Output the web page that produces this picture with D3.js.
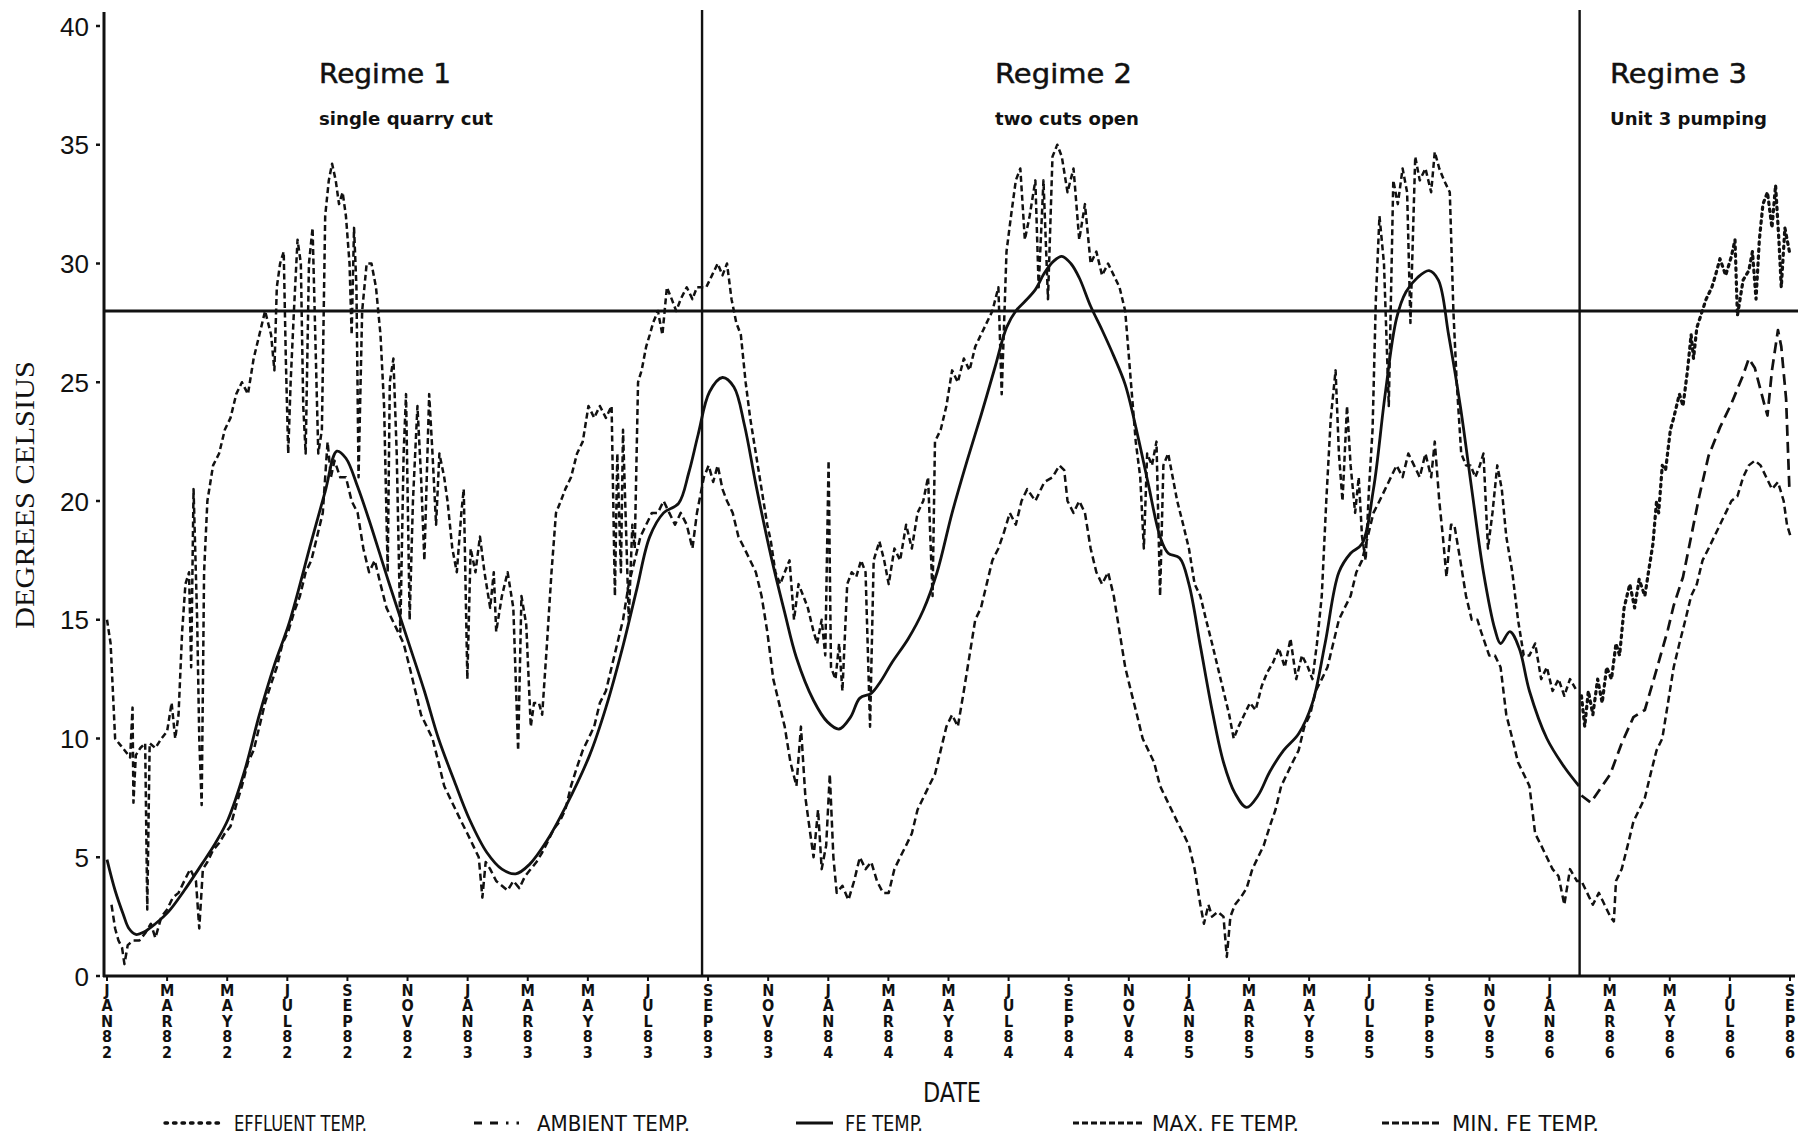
<!DOCTYPE html>
<html><head><meta charset="utf-8">
<script src="https://cdn.jsdelivr.net/npm/d3@7"></script>
<style>html,body{margin:0;padding:0;background:#fff}svg{display:block}</style>
</head><body>
<svg id="chart" width="1810" height="1139"></svg>
<script>
// ---------- DATA (x = months since Jan 1982, y = degrees Celsius) ----------
const tickLabels = ["JAN82","MAR82","MAY82","JUL82","SEP82","NOV82","JAN83","MAR83","MAY83","JUL83","SEP83","NOV83",
  "JAN84","MAR84","MAY84","JUL84","SEP84","NOV84","JAN85","MAR85","MAY85","JUL85","SEP85","NOV85","JAN86","MAR86","MAY86","JUL86","SEP86"];
const yTicks = [0,5,10,15,20,25,30,35,40];
const regimeBoundaries = [19.8, 49.0];
const regimeTitles = ["Regime 1","Regime 2","Regime 3"];
const regimeSubtitles = ["single quarry cut","two cuts open","Unit 3 pumping"];
const thresholdTemp = 28;
const legendLabels = ["EFFLUENT TEMP.","AMBIENT TEMP.","FE TEMP.","MAX. FE TEMP.","MIN. FE TEMP."];

const feTemp = [[0,4.9],[0.27,3.6],[0.54,2.6],[0.73,2.0],[0.96,1.75],[1.23,1.85],[1.61,2.2],[2.04,2.7],[2.57,3.6],[3.15,4.7],
 [3.61,5.6],[4.03,6.6],[4.57,8.6],[5.07,11.0],[5.57,13.1],[6.07,14.9],[6.8,18.3],[7.26,20.4],[7.65,22.1],[7.95,21.8],
 [8.34,20.6],[8.72,19.2],[9.37,16.6],[10.07,13.9],[10.56,12.0],[11.03,10.0],[11.56,8.2],[12.06,6.6],[12.64,5.2],[13.14,4.5],
 [13.6,4.3],[14.06,4.7],[14.64,5.7],[15.25,7.1],[16.06,9.3],[16.6,11.3],[17.17,13.9],[17.63,16.3],[18.06,18.5],[18.52,19.5],
 [19.02,19.9],[19.36,21.2],[19.67,22.8],[20.05,24.6],[20.48,25.2],[20.86,24.8],[21.21,23.2],[21.59,20.7],[22.09,17.7],[22.55,15.3],
 [22.94,13.4],[23.51,11.6],[23.97,10.7],[24.36,10.4],[24.74,10.9],[25.05,11.7],[25.43,11.9],[25.74,12.4],[26.12,13.2],[26.66,14.2],
 [27.16,15.4],[27.62,17.0],[28.12,19.5],[28.62,21.7],[29.08,23.6],[29.54,25.6],[29.93,27.3],[30.24,28.0],[30.54,28.4],[30.89,28.9],
 [31.19,29.6],[31.5,30.1],[31.77,30.3],[32.07,30.0],[32.35,29.4],[32.73,28.2],[33.11,27.2],[33.5,26.1],[33.88,24.9],[34.27,22.9],
 [34.65,20.7],[35.04,18.5],[35.31,17.8],[35.69,17.6],[36.0,16.5],[36.38,13.9],[36.77,11.2],[37.15,9.0],[37.53,7.7],[37.92,7.1],
 [38.3,7.6],[38.69,8.6],[39.15,9.5],[39.65,10.2],[40.11,11.5],[40.53,14.0],[40.99,17.0],[41.38,17.8],[41.76,18.2],[42.14,20.5],
 [42.53,24.5],[42.91,27.7],[43.22,28.8],[43.6,29.4],[43.99,29.7],[44.3,29.3],[44.64,27.0],[45.03,24.0],[45.41,20.5],[45.8,17.0],
 [46.18,14.6],[46.37,14.0],[46.68,14.5],[46.99,13.8],[47.33,12.0],[47.91,10.0],[48.49,8.8],[48.98,8.0]];

const maxFeTemp = [[0,15.0],[0.12,14.0],[0.27,10.0],[0.46,9.7],[0.65,9.4],[0.77,9.2],[0.85,11.3],[0.88,7.3],[0.96,9.3],[1.11,9.6],
 [1.27,9.8],[1.34,2.8],[1.42,9.8],[1.61,9.6],[1.81,10.0],[2.0,10.3],[2.15,11.5],[2.27,10.0],[2.38,11.0],[2.5,14.5],
 [2.61,16.5],[2.73,17.0],[2.8,13.0],[2.88,20.5],[3.0,15.0],[3.07,10.0],[3.15,7.2],[3.23,17.0],[3.34,20.0],[3.53,21.5],
 [3.73,22.0],[3.92,23.0],[4.11,23.5],[4.3,24.5],[4.49,25.0],[4.69,24.5],[4.88,26.0],[5.07,27.0],[5.26,28.0],[5.46,27.0],
 [5.57,25.5],[5.65,29.0],[5.76,30.0],[5.88,30.5],[5.95,26.0],[6.03,22.0],[6.11,25.0],[6.22,28.0],[6.34,31.0],[6.45,30.0],
 [6.53,24.0],[6.61,22.0],[6.72,30.0],[6.84,31.5],[6.95,26.0],[7.03,22.0],[7.15,23.0],[7.26,32.0],[7.38,33.5],[7.49,34.2],
 [7.61,33.5],[7.72,32.5],[7.84,33.0],[7.95,32.0],[8.07,30.0],[8.14,27.0],[8.22,31.5],[8.3,29.0],[8.37,21.0],[8.49,28.0],
 [8.64,30.0],[8.8,30.0],[8.95,29.0],[9.1,27.0],[9.22,24.0],[9.34,17.0],[9.41,25.0],[9.53,26.0],[9.64,22.0],[9.76,14.5],
 [9.87,22.0],[9.95,24.5],[10.07,15.0],[10.18,20.0],[10.33,24.0],[10.45,21.0],[10.56,17.5],[10.72,24.5],[10.83,22.0],[10.95,19.0],
 [11.06,22.0],[11.22,21.0],[11.33,20.0],[11.49,18.0],[11.64,17.0],[11.79,19.5],[11.87,20.5],[11.99,12.5],[12.1,18.0],[12.26,17.0],
 [12.41,18.5],[12.56,17.0],[12.75,15.5],[12.87,17.0],[12.95,14.5],[13.14,16.0],[13.33,17.0],[13.52,15.5],[13.68,9.5],[13.79,16.0],
 [13.95,14.8],[14.1,10.5],[14.21,11.5],[14.37,11.5],[14.48,11.0],[14.64,14.0],[14.79,17.0],[14.94,19.5],[15.1,20.0],[15.25,20.5],
 [15.44,21.0],[15.64,22.0],[15.83,22.5],[16.02,24.0],[16.21,23.5],[16.4,24.0],[16.6,23.5],[16.79,24.0],[16.9,16.0],[16.98,22.0],
 [17.1,17.0],[17.17,23.0],[17.29,18.0],[17.36,15.0],[17.48,19.0],[17.56,18.0],[17.67,25.0],[17.79,25.5],[17.94,26.5],[18.06,27.0],
 [18.17,27.5],[18.33,28.0],[18.48,27.0],[18.63,29.0],[18.79,28.5],[18.94,28.0],[19.09,28.5],[19.29,29.0],[19.48,28.5],[19.63,29.0],
 [19.94,29.0],[20.13,29.5],[20.32,30.0],[20.48,29.5],[20.63,30.0],[20.78,28.5],[20.94,27.5],[21.09,27.0],[21.25,25.0],[21.4,23.5],
 [21.59,22.0],[21.78,20.5],[21.97,19.0],[22.09,18.3],[22.24,17.0],[22.4,16.5],[22.55,17.0],[22.71,17.5],[22.86,15.0],[23.01,16.5],
 [23.17,16.0],[23.32,15.5],[23.51,14.5],[23.63,14.0],[23.78,15.0],[23.9,13.5],[24.01,21.7],[24.09,13.0],[24.24,12.5],[24.36,14.0],
 [24.47,12.0],[24.63,16.5],[24.78,17.0],[24.93,16.8],[25.09,17.5],[25.24,17.0],[25.39,10.5],[25.51,17.5],[25.7,18.3],[25.86,17.5],
 [26.01,16.5],[26.2,18.0],[26.39,17.5],[26.59,19.0],[26.78,18.0],[26.97,19.5],[27.16,20.0],[27.32,21.0],[27.47,16.0],[27.55,22.5],
 [27.74,23.0],[27.93,24.0],[28.12,25.5],[28.31,25.0],[28.51,26.0],[28.7,25.5],[28.89,26.5],[29.08,27.0],[29.27,27.5],[29.46,28.0],
 [29.66,29.0],[29.77,24.5],[29.93,30.5],[30.08,32.0],[30.24,33.5],[30.39,34.0],[30.54,31.0],[30.7,32.0],[30.89,33.5],[31.0,29.0],
 [31.16,33.5],[31.31,28.5],[31.46,34.5],[31.62,35.0],[31.77,34.5],[31.96,33.0],[32.16,34.0],[32.35,31.0],[32.54,32.5],[32.73,30.0],
 [32.92,30.5],[33.11,29.5],[33.31,30.0],[33.5,29.5],[33.69,29.0],[33.88,28.0],[34.07,25.0],[34.23,22.5],[34.38,21.0],[34.5,18.0],
 [34.61,22.0],[34.77,21.5],[34.92,22.5],[35.04,16.0],[35.15,21.5],[35.31,22.0],[35.46,21.0],[35.61,20.0],[35.81,19.0],[36.0,18.0],
 [36.19,16.5],[36.38,16.0],[36.57,15.0],[36.77,14.0],[36.96,13.0],[37.15,12.0],[37.34,11.0],[37.49,10.0],[37.65,10.5],[37.84,11.0],
 [38.03,11.5],[38.22,11.2],[38.42,12.2],[38.61,12.8],[38.8,13.2],[38.99,13.8],[39.19,13.0],[39.38,14.2],[39.57,12.5],[39.76,13.5],
 [39.96,13.0],[40.11,12.5],[40.26,14.0],[40.42,16.0],[40.57,20.0],[40.72,23.5],[40.88,25.5],[40.99,22.0],[41.11,20.0],[41.26,24.0],
 [41.38,21.5],[41.53,19.5],[41.65,21.0],[41.76,18.5],[41.88,17.5],[41.99,20.5],[42.11,23.0],[42.22,28.5],[42.34,32.0],[42.49,30.0],
 [42.65,24.0],[42.8,33.5],[42.95,32.5],[43.11,34.0],[43.26,33.0],[43.37,27.5],[43.53,34.5],[43.68,33.5],[43.87,34.0],[44.06,33.0],
 [44.18,34.7],[44.33,34.0],[44.49,33.5],[44.68,33.0],[44.8,28.0],[44.91,25.0],[45.06,22.0],[45.22,21.5],[45.37,21.5],[45.53,21.0],
 [45.68,21.5],[45.8,22.0],[45.95,18.0],[46.1,19.5],[46.26,21.5],[46.41,20.5],[46.56,18.5],[46.76,17.0],[46.95,15.0],[47.14,13.5],
 [47.33,13.5],[47.52,14.0],[47.72,12.5],[47.91,13.0],[48.1,12.0],[48.3,12.5],[48.49,11.8],[48.68,12.5],[48.91,12.0]];

const minFeTemp = [[0.15,3.0],[0.27,2.0],[0.38,1.5],[0.5,1.2],[0.58,0.5],[0.69,1.3],[0.88,1.5],[1.08,1.5],[1.27,1.8],[1.46,2.2],
 [1.61,1.6],[1.81,2.5],[2.0,2.8],[2.19,3.3],[2.38,3.5],[2.57,4.0],[2.77,4.5],[2.96,4.0],[3.07,2.0],[3.19,4.5],
 [3.34,4.8],[3.53,5.3],[3.73,5.6],[3.92,6.0],[4.11,6.3],[4.3,7.2],[4.49,8.0],[4.69,9.0],[4.88,9.5],[5.07,10.5],
 [5.26,11.5],[5.46,12.3],[5.65,13.0],[5.84,14.0],[6.03,14.5],[6.22,15.3],[6.42,16.0],[6.61,17.0],[6.8,17.5],[6.99,18.5],
 [7.18,19.5],[7.34,22.5],[7.45,21.0],[7.57,21.7],[7.76,21.0],[7.95,21.0],[8.14,20.0],[8.34,19.5],[8.53,18.0],[8.72,17.0],
 [8.91,17.5],[9.1,16.5],[9.3,15.5],[9.49,15.0],[9.68,14.5],[9.87,14.0],[10.07,13.0],[10.26,12.0],[10.45,11.0],[10.64,10.5],
 [10.83,10.0],[11.03,9.0],[11.22,8.0],[11.41,7.5],[11.6,7.0],[11.79,6.5],[11.99,6.0],[12.18,5.5],[12.37,5.0],[12.49,3.3],
 [12.6,4.8],[12.75,4.5],[12.95,4.0],[13.14,3.8],[13.33,3.6],[13.52,4.0],[13.72,3.7],[13.91,4.2],[14.1,4.5],[14.29,4.8],
 [14.48,5.2],[14.68,5.7],[14.87,6.2],[15.06,6.5],[15.25,7.0],[15.44,8.0],[15.64,8.8],[15.83,9.5],[16.02,10.0],[16.21,10.5],
 [16.4,11.5],[16.6,12.0],[16.79,13.0],[16.98,14.0],[17.17,15.0],[17.36,16.5],[17.56,17.5],[17.75,18.5],[17.94,19.0],[18.13,19.5],
 [18.33,19.5],[18.52,20.0],[18.71,19.5],[18.9,19.0],[19.09,19.5],[19.29,19.0],[19.48,18.0],[19.63,19.5],
 [19.86,21.0],[20.02,21.5],[20.17,20.8],[20.32,21.5],[20.48,20.5],[20.63,20.0],[20.82,19.5],[21.01,18.5],[21.21,18.0],[21.4,17.5],
 [21.59,17.0],[21.78,16.0],[21.97,14.5],[22.17,12.5],[22.36,11.5],[22.55,10.5],[22.74,9.0],[22.94,8.0],[23.09,10.5],[23.24,7.5],
 [23.4,6.0],[23.51,5.0],[23.66,7.0],[23.78,4.5],[23.93,5.5],[24.05,8.5],[24.17,5.0],[24.28,3.5],[24.47,3.8],[24.67,3.2],
 [24.86,4.0],[25.05,5.0],[25.24,4.5],[25.43,4.8],[25.62,4.0],[25.82,3.5],[26.01,3.5],[26.2,4.5],[26.39,5.0],[26.59,5.5],
 [26.78,6.0],[26.97,7.0],[27.16,7.5],[27.35,8.0],[27.55,8.5],[27.74,9.5],[27.93,10.5],[28.12,11.0],[28.31,10.5],[28.51,12.0],
 [28.7,13.5],[28.89,15.0],[29.08,15.5],[29.27,16.5],[29.46,17.5],[29.66,18.0],[29.85,18.7],[30.04,19.5],[30.24,19.0],[30.43,20.0],
 [30.62,20.5],[30.89,20.0],[31.19,20.8],[31.46,21.0],[31.69,21.5],[31.85,21.3],[31.96,20.0],[32.16,19.5],[32.35,20.0],[32.54,19.5],
 [32.73,18.0],[32.92,17.0],[33.11,16.5],[33.31,17.0],[33.5,16.0],[33.69,14.5],[33.88,13.0],[34.07,12.0],[34.27,11.0],[34.46,10.0],
 [34.65,9.5],[34.84,9.0],[35.04,8.0],[35.23,7.5],[35.42,7.0],[35.61,6.5],[35.81,6.0],[36.0,5.5],[36.19,4.5],[36.38,3.0],
 [36.5,2.2],[36.65,3.0],[36.77,2.5],[36.96,2.7],[37.15,2.5],[37.26,0.8],[37.38,2.5],[37.53,3.0],[37.72,3.3],[37.92,3.7],
 [38.11,4.5],[38.3,5.0],[38.49,5.5],[38.69,6.3],[38.88,7.0],[39.07,8.0],[39.26,8.5],[39.45,9.0],[39.65,9.5],[39.84,10.5],
 [40.03,11.0],[40.22,12.0],[40.42,12.5],[40.61,13.0],[40.8,14.0],[40.99,15.0],[41.18,15.5],[41.38,16.0],[41.57,17.0],[41.76,17.5],
 [41.95,18.5],[42.14,19.5],[42.34,20.0],[42.53,20.5],[42.72,21.0],[42.91,21.5],[43.11,21.0],[43.3,22.0],[43.49,21.5],[43.68,21.0],
 [43.87,22.0],[44.06,21.0],[44.18,22.5],[44.33,20.0],[44.45,18.5],[44.57,16.8],[44.72,19.0],[44.83,19.0],[45.03,17.5],[45.22,16.0],
 [45.41,15.0],[45.6,15.0],[45.72,14.5],[45.99,13.5],[46.18,13.5],[46.37,13.0],[46.56,11.0],[46.76,10.0],[46.95,9.0],[47.14,8.5],
 [47.33,8.0],[47.52,6.0],[47.72,5.5],[47.91,5.0],[48.1,4.5],[48.3,4.2],[48.49,3.0],[48.68,4.5],[48.91,4.0],
 [49.06,4.0],[49.25,3.5],[49.44,3.0],[49.64,3.5],[49.83,3.0],[50.02,2.5],[50.14,2.3],[50.21,4.0],[50.4,4.5],[50.6,5.5],
 [50.79,6.5],[50.98,7.0],[51.17,7.5],[51.36,8.5],[51.56,9.5],[51.75,10.0],[51.94,11.5],[52.13,13.0],[52.32,14.0],[52.52,15.0],
 [52.71,16.0],[52.9,16.5],[53.09,17.5],[53.29,18.0],[53.48,18.5],[53.67,19.0],[53.86,19.5],[54.05,20.0],[54.25,20.2],[54.44,21.0],
 [54.63,21.5],[54.83,21.7],[55.02,21.5],[55.21,21.0],[55.4,20.5],[55.6,20.8],[55.79,20.0],[55.9,19.0],[56.02,18.5]];

const effluentTemp = [[49.06,11.8],[49.17,10.5],[49.29,12.0],[49.44,11.0],[49.6,12.5],[49.75,11.5],[49.9,13.0],[50.06,12.5],[50.21,14.0],[50.33,13.5],
 [50.48,15.5],[50.67,16.5],[50.83,15.5],[50.98,16.7],[51.17,16.0],[51.29,17.0],[51.44,18.2],[51.56,20.0],[51.63,19.5],[51.75,21.5],
 [51.86,21.3],[52.02,23.0],[52.13,23.5],[52.32,24.5],[52.44,24.0],[52.59,25.5],[52.71,27.0],[52.79,26.0],[52.9,27.3],[53.21,28.5],
 [53.4,29.0],[53.52,29.5],[53.67,30.2],[53.86,29.5],[54.05,30.3],[54.17,31.0],[54.25,27.8],[54.44,29.3],[54.63,29.7],[54.75,30.5],
 [54.87,28.5],[54.98,31.0],[55.1,32.5],[55.25,33.0],[55.4,31.5],[55.52,33.3],[55.63,31.0],[55.71,29.0],[55.83,31.5],[55.98,30.5]];

const ambientTemp = [[49.06,7.6],[49.37,7.3],[49.75,8.0],[50.02,8.5],[50.4,9.8],[50.79,10.9],[51.17,11.2],[51.56,12.9],[51.94,14.6],[52.13,15.6],
 [52.44,16.8],[52.71,18.5],[52.98,20.2],[53.29,21.9],[53.67,23.1],[54.05,24.1],[54.44,25.3],[54.63,26.0],[54.83,25.6],[55.14,24.1],
 [55.25,23.6],[55.4,25.5],[55.6,27.2],[55.71,26.5],[55.87,24.3],[55.98,20.5]];

// ---------- LAYOUT ----------
const svg = d3.select("#chart");
const x = d3.scaleLinear().domain([0, 56]).range([107, 1790]);
const y = d3.scaleLinear().domain([0, 40]).range([976, 26]);
const axisX = 104, axisRight = 1795;
const ink = "#111";

const styles = {
  effluent: {dash: "2.5,4.5", w: 3.2, cap: "round"},
  ambient:  {dash: "11,6", w: 2.7, cap: "butt"},
  fe:       {dash: null, w: 2.8, cap: "butt"},
  max:      {dash: "6,3.5", w: 2.5, cap: "butt"},
  min:      {dash: "7,4", w: 2.5, cap: "butt"}
};

// threshold line
svg.append("line").attr("x1", axisX).attr("x2", 1798)
  .attr("y1", y(thresholdTemp)).attr("y2", y(thresholdTemp))
  .attr("stroke", ink).attr("stroke-width", 2.8);

// regime boundaries
svg.selectAll("line.regime").data(regimeBoundaries).join("line").attr("class","regime")
  .attr("x1", d => x(d)).attr("x2", d => x(d)).attr("y1", 10).attr("y2", y(0))
  .attr("stroke", ink).attr("stroke-width", 2.4);

// series
const line = d3.line().x(d => x(d[0])).y(d => y(d[1]));
const smooth = d3.line().x(d => x(d[0])).y(d => y(d[1])).curve(d3.curveCatmullRom.alpha(0.5));
function drawSeries(data, st, gen) {
  svg.append("path").datum(data).attr("d", gen || line).attr("fill", "none")
    .attr("stroke", ink).attr("stroke-width", st.w).attr("stroke-linecap", st.cap)
    .attr("stroke-linejoin", "round")
    .attr("stroke-dasharray", st.dash);
}
drawSeries(maxFeTemp, styles.max);
drawSeries(minFeTemp, styles.min);
drawSeries(effluentTemp, styles.effluent);
drawSeries(ambientTemp, styles.ambient);
drawSeries(feTemp, styles.fe, smooth);

// axes
svg.append("line").attr("x1", axisX).attr("x2", axisX).attr("y1", 12).attr("y2", y(0) + 1)
  .attr("stroke", ink).attr("stroke-width", 3);
svg.append("line").attr("x1", axisX - 1).attr("x2", axisRight).attr("y1", y(0)).attr("y2", y(0))
  .attr("stroke", ink).attr("stroke-width", 3);

// y ticks and labels
const yAxis = svg.append("g");
yAxis.selectAll("line").data(yTicks).join("line")
  .attr("x1", axisX - 8).attr("x2", axisX - 4).attr("y1", d => y(d)).attr("y2", d => y(d))
  .attr("stroke", ink).attr("stroke-width", 2.5);
yAxis.selectAll("text").data(yTicks).join("text")
  .attr("x", axisX - 15).attr("y", d => y(d) + 9.5)
  .attr("text-anchor", "end").attr("font-family", "'Liberation Sans', Arial, sans-serif")
  .attr("font-size", 26).attr("fill", ink).text(d => d);

// x ticks & stacked labels
const xt = svg.append("g");
const tickPos = tickLabels.map((t, i) => i * 2);
xt.selectAll("line").data(tickPos).join("line")
  .attr("x1", d => x(d)).attr("x2", d => x(d)).attr("y1", y(0)).attr("y2", y(0) + 5)
  .attr("stroke", ink).attr("stroke-width", 2);
const rowY = [995.5, 1011, 1026.5, 1042, 1057.5];
tickLabels.forEach((lab, i) => {
  const g = xt.append("text").attr("font-family", "'DejaVu Sans Condensed','Liberation Sans Narrow','DejaVu Sans',sans-serif")
    .attr("font-weight", "bold").attr("font-size", 16).attr("fill", ink).attr("text-anchor", "middle");
  lab.split("").forEach((ch, k) => {
    g.append("tspan").attr("x", x(tickPos[i])).attr("y", rowY[k]).text(ch);
  });
});

// axis titles
svg.append("text").attr("transform", "translate(34,495) rotate(-90)")
  .attr("text-anchor", "middle").attr("font-family", "'Liberation Serif','DejaVu Serif',serif")
  .attr("font-size", 27).attr("textLength", 268).attr("lengthAdjust", "spacingAndGlyphs")
  .attr("fill", ink).text("DEGREES CELSIUS");
svg.append("text").attr("x", 952).attr("y", 1102).attr("text-anchor", "middle")
  .attr("font-family", "'DejaVu Sans Condensed','Liberation Sans Narrow','Liberation Sans',sans-serif")
  .attr("font-size", 27).attr("textLength", 58).attr("lengthAdjust", "spacingAndGlyphs")
  .attr("fill", ink).text("DATE");

// regime titles
const titleX = [319, 995, 1610];
const titleW = [132, 137, 137];
const subW = [174, 144, 157];
regimeTitles.forEach((t, i) => {
  svg.append("text").attr("x", titleX[i]).attr("y", 83)
    .attr("font-family", "'DejaVu Sans',sans-serif").attr("font-size", 27)
    .attr("stroke", ink).attr("stroke-width", 0.5)
    .attr("textLength", titleW[i]).attr("lengthAdjust", "spacingAndGlyphs")
    .attr("fill", ink).text(t);
  svg.append("text").attr("x", titleX[i]).attr("y", 125)
    .attr("font-family", "'DejaVu Sans',sans-serif").attr("font-weight", "bold").attr("font-size", 17.5)
    .attr("textLength", subW[i]).attr("lengthAdjust", "spacingAndGlyphs")
    .attr("fill", ink).text(regimeSubtitles[i]);
});

// legend
const legendSym = [[165, 222], [474, 519], [796, 833], [1073, 1143], [1382, 1441]];
const legendText = [[234, 133], [537, 153], [845, 78], [1152, 147], [1452, 147]];
const legendStyles = [
  {dash: "2.5,6", w: 3.4, cap: "round"},
  {dash: "8,8,8,8,2.5", w: 3, cap: "butt"},
  styles.fe,
  {dash: "6,3", w: 2.8, cap: "butt"},
  {dash: "7,3", w: 2.8, cap: "butt"}
];
const ly = 1122;
legendLabels.forEach((lab, i) => {
  const s = legendStyles[i];
  svg.append("line").attr("x1", legendSym[i][0]).attr("x2", legendSym[i][1]).attr("y1", ly + 1).attr("y2", ly + 1)
    .attr("stroke", ink).attr("stroke-width", s.w).attr("stroke-linecap", s.cap).attr("stroke-dasharray", s.dash);
  svg.append("text").attr("x", legendText[i][0]).attr("y", ly + 8.5)
    .attr("font-family", "'DejaVu Sans Condensed','Liberation Sans Narrow','Liberation Sans',sans-serif")
    .attr("font-size", 22).attr("textLength", legendText[i][1]).attr("lengthAdjust", "spacingAndGlyphs")
    .attr("fill", ink).text(lab);
});
</script>
</body></html>
